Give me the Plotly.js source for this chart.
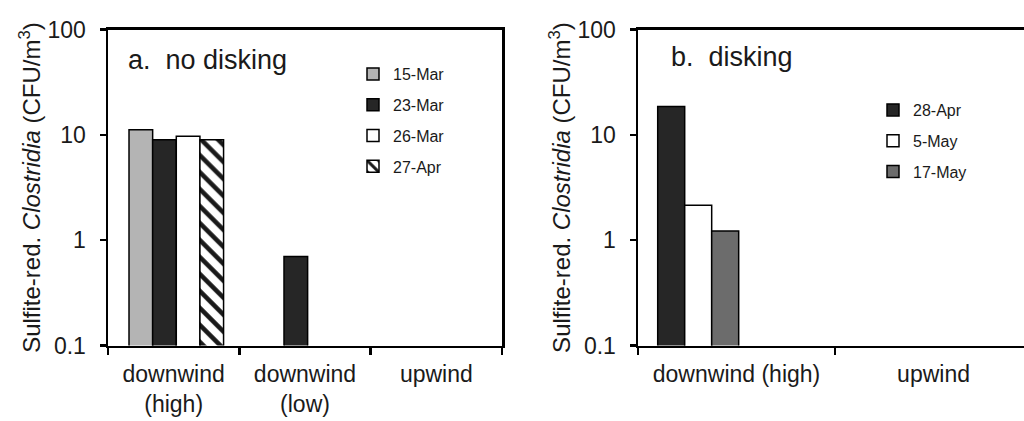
<!DOCTYPE html>
<html>
<head>
<meta charset="utf-8">
<script src="https://cdn.plot.ly/plotly-3.0.1.min.js"></script>
<style>
  html, body { margin: 0; padding: 0; background: #fff; }
  #chart { width: 1024px; height: 421px; }
</style>
</head>
<body>
<div id="chart"></div>
<script>
// ---- Data ----
const categoriesA = ["downwind<br>(high)", "downwind<br>(low)", "upwind"];
const seriesNamesA = ["15-Mar", "23-Mar", "26-Mar", "27-Apr"];
const mar15 = [11.2, null, null];
const mar23 = [9.0, 0.70, null];
const mar26 = [9.7, null, null];
const apr27 = [9.0, null, null];

const categoriesB = ["downwind (high)", "upwind"];
const seriesNamesB = ["28-Apr", "5-May", "17-May"];
const apr28 = [18.6, null];
const may5 = [2.15, null];
const may17 = [1.22, null];

const yTickVals = [0.1, 1, 10, 100];
const yTickText = ["0.1", "1", "10", "100"];

// ---- Styling ----
const FONT = "Liberation Sans, Arial, Helvetica, sans-serif";
const INK = "#1a1a1a";
const lineStyle = { color: "#000", width: 1.5 };

const widthA = 0.18;
const offsetsA = [-0.34, -0.16, 0.02, 0.20];
const widthB = 0.137;
const offsetsB = [-0.40, -0.263, -0.126];

const traces = [
  { name: seriesNamesA[0], y: mar15, marker: { color: "#b4b4b4", line: lineStyle } },
  { name: seriesNamesA[1], y: mar23, marker: { color: "#262626", line: lineStyle } },
  { name: seriesNamesA[2], y: mar26, marker: { color: "#ffffff", line: lineStyle } },
  { name: seriesNamesA[3], y: apr27, marker: { color: "#ffffff", line: lineStyle,
      pattern: { shape: "\\", fgcolor: "#1a1a1a", bgcolor: "#ffffff", size: 12, solidity: 0.38 } } }
].map((t, i) => Object.assign({
  type: "bar", x: categoriesA, width: widthA, offset: offsetsA[i],
  xaxis: "x", yaxis: "y", legend: "legend", legendgroup: "a" + i,
  hoverinfo: "y+name"
}, t));

const tracesB = [
  { name: seriesNamesB[0], y: apr28, marker: { color: "#262626", line: lineStyle } },
  { name: seriesNamesB[1], y: may5, marker: { color: "#ffffff", line: lineStyle } },
  { name: seriesNamesB[2], y: may17, marker: { color: "#6c6c6c", line: lineStyle } }
].map((t, i) => Object.assign({
  type: "bar", x: categoriesB, width: widthB, offset: offsetsB[i],
  xaxis: "x2", yaxis: "y2", legend: "legend2", legendgroup: "b" + i,
  hoverinfo: "y+name"
}, t));

const yTitle = "Sulfite-red. <i>Clostridia</i> (CFU/m<sup>3</sup>)";
const yDomain = [1 - 345.5 / 421, 1 - 29.5 / 421];

function yAxis(mirror, anchor) {
  return {
    type: "log", range: [-1, 2], domain: yDomain, anchor: anchor,
    tickvals: yTickVals, ticktext: yTickText,
    ticks: "outside", ticklen: 6, tickwidth: 2.5, tickcolor: "#000",
    ticklabelstandoff: 9,
    showline: true, linecolor: "#000", linewidth: 2.5, mirror: mirror,
    showgrid: false, zeroline: false,
    tickfont: { family: FONT, size: 23, color: INK },
    title: { text: yTitle, font: { family: FONT, size: 24, color: INK }, standoff: 0 }
  };
}

function xAxis(domain, range, anchor) {
  return {
    type: "category", domain: domain, range: range, anchor: anchor,
    tickson: "boundaries", ticks: "outside", ticklen: 7, tickwidth: 2.5, tickcolor: "#000",
    ticklabelstandoff: 6,
    showline: true, linecolor: "#000", linewidth: 2.5, mirror: true,
    showgrid: false, zeroline: false,
    tickfont: { family: FONT, size: 23, color: INK }
  };
}

const layout = {
  width: 1024, height: 421,
  margin: { l: 0, r: 0, t: 0, b: 0 },
  paper_bgcolor: "#ffffff", plot_bgcolor: "#ffffff",
  barmode: "overlay",
  showlegend: true,
  font: { family: FONT, color: INK },
  xaxis: xAxis([108 / 1024, 502 / 1024], [-0.5, 2.5], "y"),
  yaxis: yAxis(true, "x"),
  xaxis2: xAxis([638 / 1024, 1], [-0.5, 1.459], "y2"),
  yaxis2: yAxis(false, "x2"),
  legend: {
    x: 353 / 1024, xanchor: "left", y: 1 - 57 / 421, yanchor: "top",
    font: { family: FONT, size: 16, color: INK }, tracegroupgap: 7,
    bgcolor: "rgba(0,0,0,0)", borderwidth: 0
  },
  legend2: {
    x: 873 / 1024, xanchor: "left", y: 1 - 93 / 421, yanchor: "top",
    font: { family: FONT, size: 16, color: INK }, tracegroupgap: 7,
    bgcolor: "rgba(0,0,0,0)", borderwidth: 0
  },
  annotations: [
    { text: "a.  no disking", xref: "paper", yref: "paper", x: 126 / 1024, y: 1 - 60 / 421,
      xanchor: "left", yanchor: "middle", showarrow: false,
      font: { family: FONT, size: 27, color: INK } },
    { text: "b.  disking", xref: "paper", yref: "paper", x: 669 / 1024, y: 1 - 57 / 421,
      xanchor: "left", yanchor: "middle", showarrow: false,
      font: { family: FONT, size: 27, color: INK } }
  ]
};

Plotly.newPlot("chart", traces.concat(tracesB), layout, { displayModeBar: false, staticPlot: true });
</script>
</body>
</html>
